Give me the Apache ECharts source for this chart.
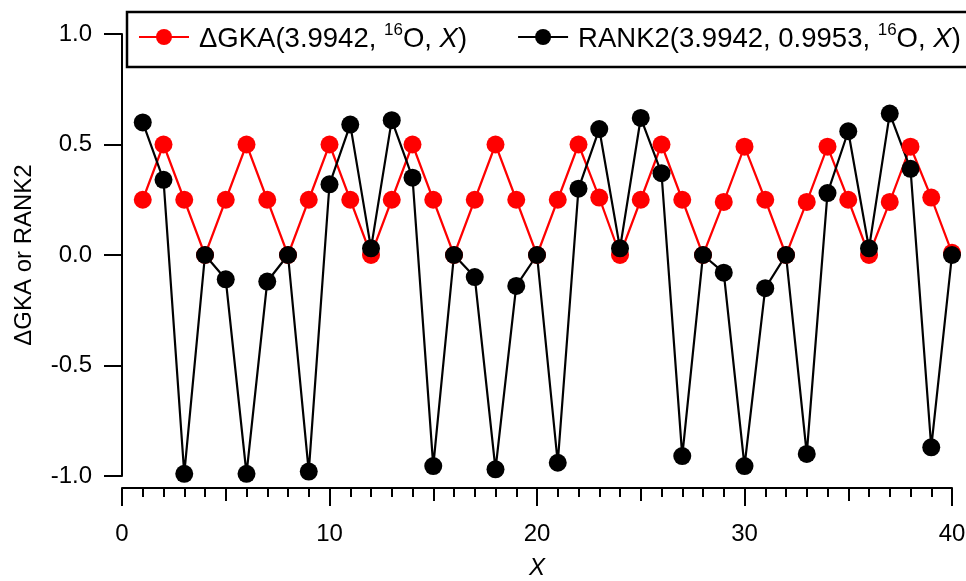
<!DOCTYPE html>
<html>
<head>
<meta charset="utf-8">
<style>
  html, body { margin: 0; padding: 0; background: #fff; }
  #chart { width: 966px; height: 581px; }
</style>
<script src="https://cdn.jsdelivr.net/npm/echarts@6/dist/echarts.min.js"></script>
</head>
<body>
<div id="chart"></div>
<script>
const xValues = [1, 2, 3, 4, 5, 6, 7, 8, 9, 10, 11, 12, 13, 14, 15, 16, 17, 18, 19, 20,
  21, 22, 23, 24, 25, 26, 27, 28, 29, 30, 31, 32, 33, 34, 35, 36, 37, 38, 39, 40];
const gkaValues = [0.25, 0.5, 0.25, 0.0, 0.25, 0.5, 0.25, 0.0, 0.25, 0.5,
  0.25, 0.0, 0.25, 0.5, 0.25, 0.0, 0.25, 0.5, 0.25, 0.0,
  0.25, 0.5, 0.26, 0.0, 0.25, 0.5, 0.25, 0.0, 0.24, 0.49,
  0.25, 0.0, 0.24, 0.49, 0.25, 0.0, 0.24, 0.49, 0.26, 0.01];
const rankValues = [0.6, 0.34, -0.99, 0.0, -0.11, -0.99, -0.12, 0.0, -0.98, 0.32,
  0.59, 0.03, 0.61, 0.35, -0.955, 0.0, -0.1, -0.97, -0.14, 0.0,
  -0.94, 0.3, 0.57, 0.03, 0.62, 0.37, -0.91, 0.0, -0.08, -0.955,
  -0.15, 0.0, -0.9, 0.28, 0.56, 0.03, 0.64, 0.39, -0.87, 0.0];
const yTicks = [-1.0, -0.5, 0.0, 0.5, 1.0];

const font = "Liberation Sans, Arial, sans-serif";
const legendRich = {
  t: { fontSize: 27.5, fontFamily: font, color: "#000", lineHeight: 32, verticalAlign: "bottom" },
  it: { fontSize: 27.5, fontFamily: font, color: "#000", fontStyle: "italic", lineHeight: 32, verticalAlign: "bottom" },
  sup: { fontSize: 17, fontFamily: font, color: "#000", lineHeight: 18, padding: [0, 0, 14, 0], verticalAlign: "bottom" },
};
const legendText = {
  gka: "{t|ΔGKA(3.9942, }{sup|16}{t|O, }{it|X}{t|)}",
  rank: "{t|RANK2(3.9942, 0.9953, }{sup|16}{t|O, }{it|X}{t|)}",
};

const axisColor = "#000";
const chart = echarts.init(document.getElementById("chart"), null, { renderer: "canvas" });

function lineSeries(name, values, color) {
  return {
    name,
    type: "line",
    data: xValues.map((x, i) => [x, values[i]]),
    symbol: "circle",
    symbolSize: 18,
    clip: false,
    lineStyle: { color, width: 2.2 },
    itemStyle: { color },
    emphasis: { disabled: true },
  };
}

chart.setOption({
  animation: false,
  grid: { left: 122, right: 14, top: 34, bottom: 105, containLabel: false, outerBoundsMode: "none" },
  graphic: [{
    type: "rect",
    shape: { x: 127, y: 12, width: 850, height: 55 },
    style: { fill: "#fff", stroke: "#000", lineWidth: 2.5 },
    z: 0,
  }],
  legend: {
    left: 138,
    top: 22,
    width: 840,
    padding: 0,
    itemWidth: 50,
    itemHeight: 20,
    itemGap: 50,
    formatter: (name) => legendText[name],
    textStyle: { padding: [0, 0, 0, 5], rich: legendRich },
    data: ["gka", "rank"],
    z: 5,
  },
  xAxis: [
    {
      type: "value",
      min: 0,
      max: 40,
      interval: 10,
      offset: 12,
      name: "X",
      nameLocation: "middle",
      nameGap: 68,
      nameTextStyle: { fontSize: 24, fontStyle: "italic", fontFamily: font, color: "#000" },
      axisLine: { onZero: false, lineStyle: { color: axisColor, width: 2 } },
      axisTick: { length: 18, lineStyle: { color: axisColor, width: 2 } },
      minorTick: { show: true, splitNumber: 10, length: 9, lineStyle: { color: axisColor, width: 2 } },
      axisLabel: { fontSize: 24, fontFamily: font, color: "#000", margin: 34 },
      splitLine: { show: false },
    },
    {
      type: "value",
      min: 0,
      max: 40,
      interval: 5,
      offset: 12,
      position: "bottom",
      axisLine: { show: false, onZero: false },
      axisTick: { length: 13, lineStyle: { color: axisColor, width: 2 } },
      axisLabel: { show: false },
      splitLine: { show: false },
    },
  ],
  yAxis: {
    type: "value",
    min: yTicks[0],
    max: yTicks[yTicks.length - 1],
    interval: 0.5,
    name: "ΔGKA or RANK2",
    nameLocation: "middle",
    nameGap: 86,
    nameTextStyle: { fontSize: 24, fontFamily: font, color: "#000" },
    axisLine: { show: true, onZero: false, lineStyle: { color: axisColor, width: 2 } },
    axisTick: { show: true, length: 18, lineStyle: { color: axisColor, width: 2 } },
    axisLabel: { fontSize: 24, fontFamily: font, color: "#000", margin: 30, formatter: (v) => v.toFixed(1) },
    splitLine: { show: false },
  },
  series: [
    lineSeries("gka", gkaValues, "#ff0000"),
    lineSeries("rank", rankValues, "#000000"),
  ],
});
</script>
</body>
</html>
